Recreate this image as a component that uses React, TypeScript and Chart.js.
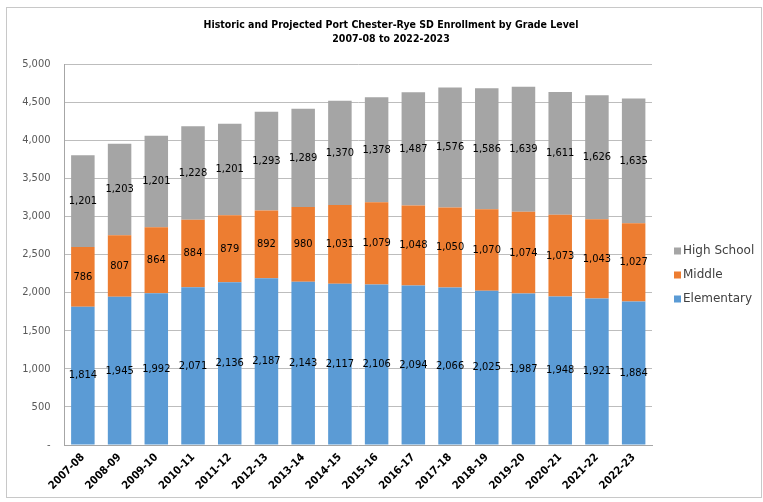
import React, { useEffect, useRef } from "react";
import { Chart, registerables } from "chart.js";

Chart.register(...registerables);

const categories = [
  "2007-08", "2008-09", "2009-10", "2010-11", "2011-12", "2012-13", "2013-14", "2014-15",
  "2015-16", "2016-17", "2017-18", "2018-19", "2019-20", "2020-21", "2021-22", "2022-23",
];
const elementary = [1814, 1945, 1992, 2071, 2136, 2187, 2143, 2117, 2106, 2094, 2066, 2025, 1987, 1948, 1921, 1884];
const middle = [786, 807, 864, 884, 879, 892, 980, 1031, 1079, 1048, 1050, 1070, 1074, 1073, 1043, 1027];
const highSchool = [1201, 1203, 1201, 1228, 1201, 1293, 1289, 1370, 1378, 1487, 1576, 1586, 1639, 1611, 1626, 1635];

const titleLines = [
  "Historic and Projected Port Chester-Rye SD Enrollment by Grade Level",
  "2007-08 to 2022-2023",
];
const seriesNames = ["Elementary", "Middle", "High School"];
const seriesColors = ["#5B9BD5", "#ED7D31", "#A5A5A5"];

const W = 763;
const H = 502;
const FONT = '"DejaVu Sans Condensed", "Liberation Sans", sans-serif';
const LEGEND_FONT = '"DejaVu Sans", "Liberation Sans", sans-serif';

const fmt = (v: number) => v.toLocaleString("en-US");

const overlayPlugin = {
  id: "overlayPlugin",
  beforeDraw(chart: any) {
    const ctx = chart.ctx;
    ctx.save();
    ctx.fillStyle = "#ffffff";
    ctx.fillRect(0, 0, chart.width, chart.height);
    ctx.strokeStyle = "#C8C8C8";
    ctx.lineWidth = 1;
    ctx.strokeRect(6.5, 7.5, 755, 490);
    ctx.restore();
  },
  afterDatasetsDraw(chart: any) {
    const ctx = chart.ctx;
    ctx.save();
    ctx.font = `11px ${FONT}`;
    ctx.fillStyle = "#000000";
    ctx.textAlign = "center";
    ctx.textBaseline = "middle";
    chart.data.datasets.forEach((ds: any, i: number) => {
      const meta = chart.getDatasetMeta(i);
      meta.data.forEach((bar: any, j: number) => {
        const p = bar.getProps(["x", "y", "base"], true);
        ctx.fillText(fmt(ds.data[j]), p.x, (p.y + p.base) / 2);
      });
    });
    ctx.restore();
  },
  afterDraw(chart: any) {
    const ctx = chart.ctx;
    const area = chart.chartArea;
    ctx.save();
    // title
    ctx.font = `bold 10.5px ${FONT}`;
    ctx.fillStyle = "#000000";
    ctx.textAlign = "center";
    ctx.textBaseline = "middle";
    ctx.fillText(titleLines[0], 391, 25.5);
    ctx.fillText(titleLines[1], 391, 39.5);
    // legend (reverse order)
    ctx.font = `12px ${LEGEND_FONT}`;
    ctx.textAlign = "left";
    const order = [2, 1, 0];
    const cy = (area.top + area.bottom) / 2 + 20.5;
    order.forEach((idx, k) => {
      const y = cy + (k - 1) * 24;
      const bx = area.right + 22;
      ctx.fillStyle = seriesColors[idx];
      ctx.fillRect(bx, y - 3.5, 7, 7);
      ctx.fillStyle = "#404040";
      ctx.fillText(seriesNames[idx], bx + 9, y);
    });
    ctx.restore();
  },
};

export default function App() {
  const ref = useRef<HTMLCanvasElement | null>(null);

  useEffect(() => {
    const canvas = ref.current;
    if (!canvas) return;
    const chart = new Chart(canvas, {
      type: "bar",
      data: {
        labels: categories,
        datasets: [
          { label: seriesNames[0], data: elementary, backgroundColor: seriesColors[0] },
          { label: seriesNames[1], data: middle, backgroundColor: seriesColors[1] },
          { label: seriesNames[2], data: highSchool, backgroundColor: seriesColors[2] },
        ],
      },
      options: {
        responsive: false,
        animation: false,
        devicePixelRatio: 1,
        layout: { padding: { left: 0, top: 64, right: 111, bottom: 0 } },
        datasets: { bar: { barPercentage: 0.64, categoryPercentage: 1 } } as any,
        plugins: {
          legend: { display: false },
          title: { display: false },
          tooltip: { enabled: false },
        },
        scales: {
          x: {
            stacked: true,
            grid: { display: false, drawTicks: false },
            border: { display: true, color: "#A6A6A6", width: 1 },
            ticks: {
              autoSkip: false,
              minRotation: 45,
              maxRotation: 45,
              padding: 6,
              color: "#000000",
              font: { family: FONT, size: 11, weight: "bold" },
            },
            afterFit: (scale: any) => {
              scale.height = H - 445;
            },
          },
          y: {
            stacked: true,
            min: 0,
            max: 5000,
            grid: { color: "#BDBDBD", drawTicks: false },
            border: { display: true, color: "#A6A6A6", width: 1 },
            ticks: {
              stepSize: 500,
              padding: 14,
              color: "#595959",
              font: { family: FONT, size: 11 },
              callback: (v: any) => (Number(v) === 0 ? "-" : fmt(Number(v))),
            },
            afterFit: (scale: any) => {
              scale.width = 64.5;
            },
          },
        },
      },
      plugins: [overlayPlugin],
    });
    return () => chart.destroy();
  }, []);

  return (
    <div style={{ position: "absolute", left: 0, top: 0, width: W, height: H }}>
      <canvas ref={ref} width={W} height={H} style={{ display: "block", width: W, height: H }} />
    </div>
  );
}
